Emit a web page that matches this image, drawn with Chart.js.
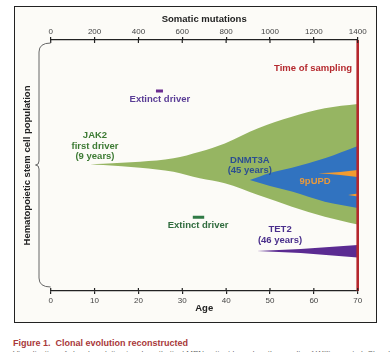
<!DOCTYPE html>
<html>
<head>
<meta charset="utf-8">
<script src="https://cdn.jsdelivr.net/npm/chart.js@4.4.1/dist/chart.umd.min.js"></script>
<style>
  body { margin: 0; background: #fff; font-family: "Liberation Sans", Arial, sans-serif; }
  #frame { position: absolute; left: 14px; top: 6px; width: 363px; height: 317px; box-sizing: border-box;
           border: 1.5px solid #222; background: #fcfbf7; }
  #chart { position: absolute; left: 0; top: 0; }
  #cap1 { position: absolute; left: 13px; top: 338px; font-size: 9px; font-weight: bold; color: #a8383a; white-space: nowrap; }
  #cap2 { position: absolute; left: 13px; top: 349px; font-size: 8px; color: #666; white-space: nowrap; }
</style>
</head>
<body>
<div id="frame"></div>
<canvas id="chart" width="391" height="330"></canvas>
<div id="cap1">Figure 1.&nbsp; Clonal evolution reconstructed</div>
<div id="cap2">Visualization of clonal evolution in a hypothetical MPN patient based on the results of Williams et al. Clonal</div>
<script>
// valores (edad en anos, poblacion en unidades 0-100)
const ageTicks = [0, 10, 20, 30, 40, 50, 60, 70];
const mutationTicks = [0, 200, 400, 600, 800, 1000, 1200, 1400];

const jak2Age = [9, 12, 20.4, 28, 34, 39.7, 47.3, 55, 62.5, 70];
const jak2Upper = [50.4, 50.7, 51.5, 52.9, 55.5, 58.8, 64.8, 69.4, 72.8, 74.5];
const jak2Lower = [50.4, 50.2, 49.1, 47.5, 44.9, 42.9, 38.2, 33.6, 29.6, 26.5];

const dnmt3aAge = [45.4, 50, 55, 62.5, 70];
const dnmt3aUpper = [44.2, 47.0, 49.1, 52.9, 57.8];
const dnmt3aLower = [44.2, 41.8, 39.6, 35.6, 33.1];

const updAAge = [61, 66, 70];
const updAUpper = [46.9, 47.4, 48.2];
const updALower = [46.9, 46.2, 45.4];
const updBAge = [67.8, 70];
const updBUpper = [38.2, 38.8];
const updBLower = [38.2, 37.6];

const tet2Age = [47, 57, 70];
const tet2Upper = [15.9, 16.7, 18.3];
const tet2Lower = [15.9, 15.1, 13.3];

const extinctPurpleAge = [24, 25.6];
const extinctPurpleY = [79.7, 79.7];
const extinctGreenAge = [32.4, 35];
const extinctGreenY = [29.4, 29.4];

const samplingAge = [70, 70];
const samplingY = [0, 100];

const pts = (xs, ys) => xs.map((x, i) => ({ x: x, y: ys[i] }));

function band(xs, up, lo, color, order) {
  return [
    { data: pts(xs, up), borderWidth: 0, pointRadius: 0, fill: false, order: order, cubicInterpolationMode: 'monotone' },
    { data: pts(xs, lo), borderWidth: 0, pointRadius: 0, fill: '-1', backgroundColor: color, order: order, cubicInterpolationMode: 'monotone' }
  ];
}

const labels = [
  { lines: ['JAK2', 'first driver', '(9 years)'], x: 10.1, y: 57.8, color: '#3d7b34' },
  { lines: ['Extinct driver'], x: 24.9, y: 76.5, color: '#5a3d96' },
  { lines: ['DNMT3A', '(45 years)'], x: 45.4, y: 50.1, color: '#2c4f91' },
  { lines: ['9pUPD'], x: 60.3, y: 43.5, color: '#e89a3c' },
  { lines: ['Extinct driver'], x: 33.6, y: 26.3, color: '#2f6b3d' },
  { lines: ['TET2', '(46 years)'], x: 52.3, y: 22.3, color: '#4a2f8c' },
  { lines: ['Time of sampling'], x: 68.7, y: 88.8, color: '#b5292e', align: 'right' }
];

const decor = {
  id: 'decor',
  afterDraw(chart) {
    const { ctx, chartArea: a, scales } = chart;
    ctx.save();
    // marcas hacia adentro para que crucen el eje
    ctx.strokeStyle = '#222';
    ctx.lineWidth = 1.2;
    scales.x.ticks.forEach(t => {
      const px = scales.x.getPixelForValue(t.value);
      ctx.beginPath(); ctx.moveTo(px, a.bottom); ctx.lineTo(px, a.bottom - 3); ctx.stroke();
    });
    scales.x2.ticks.forEach(t => {
      const px = scales.x2.getPixelForValue(t.value);
      ctx.beginPath(); ctx.moveTo(px, a.top); ctx.lineTo(px, a.top + 3); ctx.stroke();
    });

    // llave
    ctx.strokeStyle = '#666';
    ctx.lineWidth = 1;
    const bx = 39, t0 = a.top + 3, b0 = a.bottom - 4, mid = (t0 + b0) / 2;
    ctx.beginPath();
    ctx.moveTo(a.left, t0);
    ctx.quadraticCurveTo(bx, t0, bx, t0 + 9);
    ctx.lineTo(bx, mid - 4);
    ctx.quadraticCurveTo(bx, mid, bx - 3.5, mid);
    ctx.quadraticCurveTo(bx, mid, bx, mid + 4);
    ctx.lineTo(bx, b0 - 9);
    ctx.quadraticCurveTo(bx, b0, a.left, b0);
    ctx.stroke();

    // etiquetas
    ctx.font = 'bold 9.5px "Liberation Sans", Arial, sans-serif';
    ctx.textBaseline = 'middle';
    labels.forEach(l => {
      ctx.fillStyle = l.color;
      ctx.textAlign = l.align || 'center';
      const px = scales.x.getPixelForValue(l.x);
      const py = scales.y.getPixelForValue(l.y);
      const start = py - (l.lines.length - 1) * 10.5 / 2;
      l.lines.forEach((s, i) => ctx.fillText(s, px, start + i * 10.5));
    });
    ctx.restore();
  }
};

Chart.defaults.font.family = '"Liberation Sans", Arial, sans-serif';

const ctx = document.getElementById('chart').getContext('2d');
new Chart(ctx, {
  type: 'line',
  data: {
    datasets: [
      { data: pts(samplingAge, samplingY), borderColor: '#b5272d', borderWidth: 2.6, pointRadius: 0, fill: false, order: 0, clip: false },
      { data: pts(extinctPurpleAge, extinctPurpleY), borderColor: '#6a2d90', borderWidth: 3, pointRadius: 0, fill: false, order: 1, borderCapStyle: 'butt' },
      { data: pts(extinctGreenAge, extinctGreenY), borderColor: '#2f7a45', borderWidth: 3, pointRadius: 0, fill: false, order: 1, borderCapStyle: 'butt' },
      ...band(jak2Age, jak2Upper, jak2Lower, '#96b562', 6),
      ...band(dnmt3aAge, dnmt3aUpper, dnmt3aLower, '#3173c0', 5),
      ...band(updAAge, updAUpper, updALower, '#f29b30', 4),
      ...band(updBAge, updBUpper, updBLower, '#f29b30', 4),
      ...band(tet2Age, tet2Upper, tet2Lower, '#5b2b92', 4)
    ]
  },
  options: {
    responsive: false,
    animation: false,
    events: [],
    layout: { padding: { left: 15, right: 33.3, top: 7, bottom: 9 } },
    plugins: { legend: { display: false }, tooltip: { enabled: false } },
    scales: {
      x: {
        type: 'linear', position: 'bottom', min: 0, max: 70,
        afterBuildTicks: s => { s.ticks = ageTicks.map(v => ({ value: v })); },
        afterFit: s => { s.height = 30; },
        grid: { drawOnChartArea: false, tickLength: 3, color: '#222', lineWidth: 1.2 },
        border: { display: true, color: '#222', width: 1.2 },
        ticks: { color: '#444', font: { size: 8 }, padding: 2, maxRotation: 0, autoSkip: false, callback: v => String(v) },
        title: { display: true, text: 'Age', color: '#222', font: { size: 9.5, weight: 'bold' }, padding: { top: 0, bottom: 6.8 } }
      },
      x2: {
        type: 'linear', position: 'top', min: 0, max: 1400,
        afterBuildTicks: s => { s.ticks = mutationTicks.map(v => ({ value: v })); },
        afterFit: s => { s.height = 33; },
        grid: { drawOnChartArea: false, tickLength: 3, color: '#222', lineWidth: 1.2 },
        border: { display: true, color: '#222', width: 1.2 },
        ticks: { color: '#444', font: { size: 8 }, padding: 0, maxRotation: 0, autoSkip: false, callback: v => String(v) },
        title: { display: true, text: 'Somatic mutations', color: '#222', font: { size: 9.5, weight: 'bold' }, padding: { top: 6.3, bottom: 0 } }
      },
      y: {
        display: true, min: 0, max: 100,
        afterFit: s => { s.width = 35.7; },
        ticks: { display: false },
        grid: { display: false, drawTicks: false },
        border: { display: false },
        title: { display: true, text: 'Hematopoietic stem cell population', color: '#222', font: { size: 9.5, weight: 'bold' }, padding: { top: 6.3, bottom: 0 } }
      }
    }
  },
  plugins: [decor]
});
</script>
</body>
</html>
